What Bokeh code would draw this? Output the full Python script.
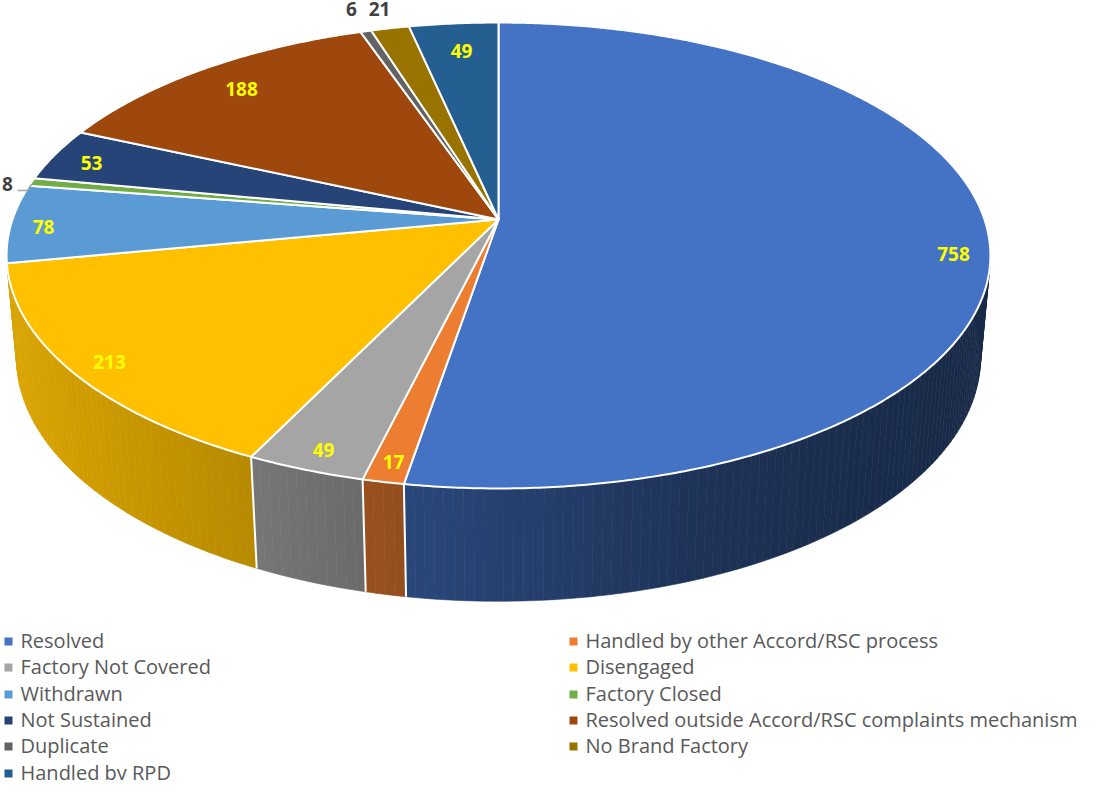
import numpy as np
from bokeh.plotting import figure
from bokeh.core.properties import value
from bokeh.embed import file_html
from bokeh.resources import INLINE

categories = ["Resolved", "Handled by other Accord/RSC process", "Factory Not Covered", "Disengaged",
              "Withdrawn", "Factory Closed", "Not Sustained",
              "Resolved outside Accord/RSC complaints mechanism", "Duplicate", "No Brand Factory", "Handled by RPD"]
counts = [758, 17, 49, 213, 78, 8, 53, 188, 6, 21, 49]
colors = ["#4472C4", "#ED7D31", "#A5A5A5", "#FFC000", "#5B9BD5", "#70AD47",
          "#264478", "#9E480E", "#636363", "#997300", "#255E91"]

# layout (page pixels)
label_x = [961, 401, 331, 117, 51, 15, 99, 249, 359, 387, 469]
label_y = [261, 469, 457, 369, 234, 191, 170, 96, 16, 16, 58]
label_col = ["#FFFF00"] * 5 + ["#404040"] + ["#FFFF00"] * 2 + ["#404040"] * 2 + ["#FFFF00"]
CX, CY, K = 506.0, 227.0, 0.1545
BX, AY = 486.0, 227.4
DEPTH, PERSP = 103.0, 0.02


def project(deg, level=0.0):
    """level 0 = top face, level 1 = bottom face of the disc"""
    t = np.radians(deg)
    X, Y = np.sin(t), np.cos(t)
    d = 1 + K * Y + PERSP * level
    return CX + BX * X / d, CY + (-AY * Y + DEPTH * level) / d


def shade(x, col):
    f = np.interp(x, [14, 258, 370, 412, 700, 900, 998], [.86, .72, .65, .63, .45, .38, .37])
    r, g, b = (int(col[i:i + 2], 16) for i in (1, 3, 5))
    return "#%02x%02x%02x" % (int(r * f), int(g * f), int(b * f))


p = figure(width=1102, height=780, x_range=(8, 1110), y_range=(788, 8),
           output_backend="svg", toolbar_location=None, min_border=0,
           outline_line_color=None, background_fill_color="white")
p.xaxis.visible = False
p.yaxis.visible = False
p.xgrid.visible = False
p.ygrid.visible = False

total = sum(counts)
edges = np.concatenate([[0], np.cumsum(counts)]) * 360.0 / total

# side wall, far strips first
strips = []
for i, col in enumerate(colors):
    a0, a1 = max(edges[i], 85), min(edges[i + 1], 262)
    if a1 <= a0:
        continue
    n = max(int(a1 - a0), 1)
    g = np.linspace(a0, a1, n + 1)
    for u, v in zip(g[:-1], g[1:]):
        xs = [project(u)[0], project(v)[0], project(v, 1)[0], project(u, 1)[0]]
        ys = [project(u)[1], project(v)[1], project(v, 1)[1], project(u, 1)[1]]
        strips.append((abs((u + v) / 2 - 180), xs, ys, shade(np.mean(xs), col)))
strips.sort(key=lambda s: -s[0])
p.patches([s[1] for s in strips], [s[2] for s in strips], fill_color=[s[3] for s in strips],
          line_color=[s[3] for s in strips], line_width=0.6)

# seams between wall segments
seam_x, seam_y = [], []
for a in edges[1:-1]:
    if 110 < a < 250:
        seam_x.append([project(a)[0], project(a, 1)[0]])
        seam_y.append([project(a)[1], project(a, 1)[1]])
p.multi_line(seam_x, seam_y, line_color="white", line_width=2)

# top face
tx, ty = [], []
for i in range(len(counts)):
    g = np.linspace(edges[i], edges[i + 1], max(int(edges[i + 1] - edges[i]) * 2, 2) + 1)
    px, py = project(g)
    tx.append([CX] + list(px))
    ty.append([CY] + list(py))
p.patches(tx, ty, fill_color=colors, line_color="white", line_width=2, line_join="round")

# leader line of the small slice
mid = (edges[5] + edges[6]) / 2
ex, ey = project(mid)
p.line([25, 35, ex], [198, 198, ey + 2], line_color="#A6A6A6", line_width=1.5)

# value labels
p.text(label_x, label_y, text=[str(c) for c in counts], text_color=label_col,
       text_font=value("Open Sans"), text_font_style="bold", text_font_size="19px",
       text_align="center", text_baseline="middle")

# legend
col_x = [16, 581]
rows = [649, 675, 702, 728, 754, 781]
for i, name in enumerate(categories):
    lx = col_x[i % 2]
    ly = rows[i // 2]
    p.rect([lx], [ly], width=8, height=8, fill_color=colors[i], line_color=None)
    p.text([lx + 12], [ly - 1], text=[name], text_color="#595959", text_font=value("Open Sans"),
           text_font_size="20px", text_align="left", text_baseline="middle")

open("out.html", "w").write(file_html(p, INLINE))
